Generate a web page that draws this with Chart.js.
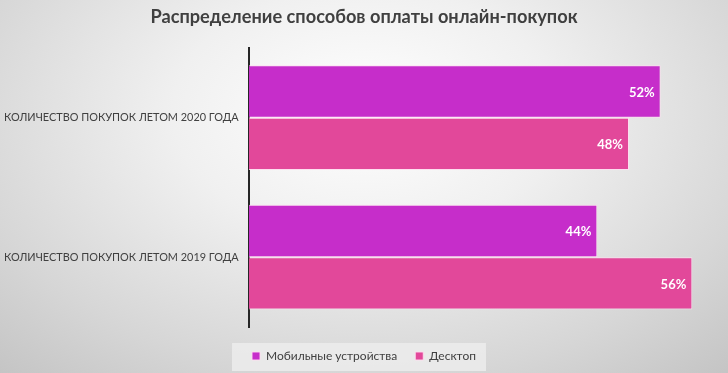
<!DOCTYPE html>
<html>
<head>
<meta charset="utf-8">
<script src="https://cdn.jsdelivr.net/npm/chart.js@4"></script>
<style>
  html, body { margin: 0; padding: 0; }
  body {
    width: 728px; height: 373px; overflow: hidden;
    background: radial-gradient(ellipse 75% 95% at 50% 30%, #ffffff 0%, #f0f0f0 35%, #d6d6d6 75%, #c4c4c4 100%);
  }
  #wrap { position: relative; width: 728px; height: 373px; }
</style>
</head>
<body>
<div id="wrap"><canvas id="myChart" width="728" height="373"></canvas></div>
<script>
const titulo = 'Распределение способов оплаты онлайн-покупок';
const categorias = ['КОЛИЧЕСТВО ПОКУПОК ЛЕТОМ 2020 ГОДА', 'КОЛИЧЕСТВО ПОКУПОК ЛЕТОМ 2019 ГОДА'];
const series = ['Мобильные устройства', 'Десктоп'];
const mobiles = [52, 44];
const desktop = [48, 56];
const colores = ['#c62dca', '#e2489a'];

const fuente = 'Lato, "Open Sans", sans-serif';
const gris = '#404040';

// etiquetas blancas dentro de las barras
const etiquetas = {
    id: 'etiquetas',
    afterDatasetsDraw(chart) {
        const ctx = chart.ctx;
        ctx.save();
        ctx.fillStyle = '#ffffff';
        ctx.font = 'bold 13px ' + fuente;
        ctx.textAlign = 'right';
        ctx.textBaseline = 'middle';
        chart.data.datasets.forEach((ds, i) => {
            chart.getDatasetMeta(i).data.forEach((bar, j) => {
                ctx.fillText(ds.data[j] + '%', bar.x - 6, bar.y + 1);
            });
        });
        ctx.restore();
    }
};

// fondo de la leyenda
const fondoLeyenda = {
    id: 'fondoLeyenda',
    beforeDraw(chart) {
        const cajas = chart.legend.legendHitBoxes;
        if (!cajas || !cajas.length) return;
        let izq = Math.min(...cajas.map(c => c.left));
        let der = Math.max(...cajas.map(c => c.left + c.width));
        let medio = cajas[0].top + cajas[0].height / 2;
        const ctx = chart.ctx;
        ctx.save();
        ctx.fillStyle = 'rgba(235,235,235,0.9)';
        ctx.fillRect(izq - 20, medio - 13, der - izq + 30, 28);
        ctx.restore();
    }
};

let ctx = document.getElementById('myChart');
const myChart = new Chart(ctx, {
    type: 'bar',
    data: {
        labels: categorias,
        datasets: [{
            label: series[0],
            data: mobiles,
            backgroundColor: colores[0],
            borderColor: 'rgba(255,220,240,0.9)',
            borderWidth: 1,
            categoryPercentage: 0.75,
            barPercentage: 1
        }, {
            label: series[1],
            data: desktop,
            backgroundColor: colores[1],
            borderColor: 'rgba(255,220,240,0.9)',
            borderWidth: 1,
            categoryPercentage: 0.75,
            barPercentage: 1
        }]
    },
    options: {
        indexAxis: 'y',
        responsive: false,
        animation: false,
        layout: { padding: { left: 4, right: 4, top: 6, bottom: 1 } },
        scales: {
            x: {
                min: 0, max: 60,
                ticks: { display: false },
                grid: { display: false },
                border: { display: false },
                afterFit(scale) { scale.height = 5; }
            },
            y: {
                grid: { display: false },
                border: { display: true, color: '#262626', width: 2 },
                ticks: { color: gris, font: { family: fuente, size: 10.9 }, crossAlign: 'far', padding: 8 },
                afterFit(scale) { scale.width = 245; }
            }
        },
        plugins: {
            title: {
                display: true,
                text: titulo,
                color: gris,
                font: { family: fuente, size: 18.2, weight: 'bold' },
                padding: { top: 0, bottom: 20 }
            },
            legend: {
                position: 'bottom',
                labels: {
                    color: gris,
                    font: { family: fuente, size: 12 },
                    boxWidth: 8,
                    boxHeight: 8,
                    padding: 18
                }
            },
            tooltip: { enabled: false }
        }
    },
    plugins: [etiquetas, fondoLeyenda]
});
</script>
</body>
</html>
